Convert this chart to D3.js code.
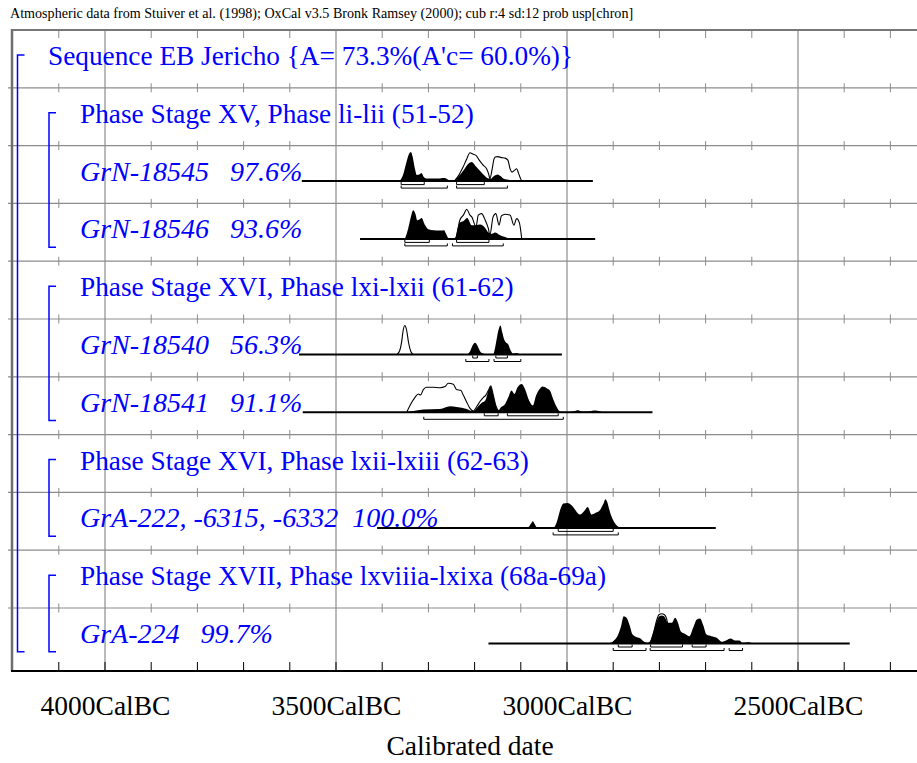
<!DOCTYPE html>
<html>
<head>
<meta charset="utf-8">
<script src="https://cdn.jsdelivr.net/npm/d3@7"></script>
<style>
  body { margin: 0; background: #fff; }
  svg { display: block; font-family: "Liberation Serif", "Times New Roman", serif; }
</style>
</head>
<body>
<svg id="chart"></svg>
<script>
const width = 917;
const height = 763;

const headerText =
  "Atmospheric data from Stuiver et al. (1998); OxCal v3.5 Bronk Ramsey (2000); cub r:4 sd:12 prob usp[chron]";
const axisTitle = "Calibrated date";

// calendar years BC
const majorTicks = [4000, 3500, 3000, 2500];
const minorTicks = [4100, 3900, 3800, 3700, 3600, 3400, 3300, 3200, 3100,
  2900, 2800, 2700, 2600, 2400, 2300];

const rowLabels = [
  "Sequence EB Jericho {A= 73.3%(A'c= 60.0%)}",
  "Phase Stage XV, Phase li-lii (51-52)",
  "GrN-18545   97.6%",
  "GrN-18546   93.6%",
  "Phase Stage XVI, Phase lxi-lxii (61-62)",
  "GrN-18540   56.3%",
  "GrN-18541   91.1%",
  "Phase Stage XVI, Phase lxii-lxiii (62-63)",
  "GrA-222, -6315, -6332  100.0%",
  "Phase Stage XVII, Phase lxviiia-lxixa (68a-69a)",
  "GrA-224   99.7%",
];
const rowKinds = ["seq", "phase", "sample", "sample", "phase", "sample", "sample",
  "phase", "sample", "phase", "sample"];
// [first row, last row] of each bracket
const phaseGroups = [[1, 3], [4, 6], [7, 8], [9, 10]];
const seqGroup = [0, 10];

// [year BC, relative probability]
const grn18545Span = [3574, 2944];
const grn18545Post = [[3362,0],[3355,6],[3348,18],[3342,27],[3338,29],[3334,24],[3329,12],[3325,6],
  [3320,6.5],[3315,8],[3310,4],[3305,2.7],[3290,2.5],[3275,2.7],[3265,3],[3258,1.5],[3252,0],
  [3244,0],[3238,3],[3230,7],[3222,12],[3214,17],[3206,19],[3198,15],[3190,11],[3180,6],
  [3170,2.5],[3165,2.3],[3158,5],[3150,6.7],[3144,5],[3138,2.5],[3130,1.5],[3120,1],[3110,0.5],[3100,0]];
const grn18545Like = [[3244,0],[3234,6],[3226,13],[3218,21],[3210,28.3],[3204,27],[3197,25.7],
  [3190,21],[3181,15.7],[3174,12.3],[3169,6],[3167,2.3],[3162,12],[3158,22],[3155,24],[3150,24.5],
  [3142,23.5],[3134,23],[3128,21],[3123,12],[3119,9],[3113,11],[3109,12.3],[3105,8],[3101,3],[3098,0]];
const grn18545R68 = [[3359, 3309], [3239, 3179]];
const grn18545R95 = [[3359, 3259], [3239, 3129]];

const grn18546Span = [3448, 2939];
const grn18546Post = [[3351,0],[3344,10],[3338,22],[3333,28.7],[3328,25],[3324,18.7],[3318,20],
  [3315,21],[3307,13.7],[3300,9.7],[3289,8.7],[3275,8.3],[3266,8.7],[3262,5.3],[3257,1],[3250,0],
  [3242,0],[3239,6],[3233,16],[3224,18],[3216,21],[3206,13.7],[3197,13.7],[3188,14.3],[3177,11],
  [3170,6.3],[3163,5],[3156,6.3],[3145,3.7],[3134,2],[3123,0]];
const grn18546Like = [[3242,0],[3239,3],[3232,18.7],[3224,24],[3217,29.7],[3210,23.7],[3206,22],
  [3197,12],[3192,23.7],[3185,25.3],[3177,18.7],[3170,10],[3167,3.7],[3160,22],[3154,25.3],
  [3147,13.7],[3142,23],[3134,24.7],[3123,23.7],[3115,13.7],[3109,20.3],[3103,16],[3098,0]];
const grn18546R68 = [[3351, 3298], [3239, 3169]];
const grn18546R95 = [[3351, 3259], [3248, 3138]];

const grn18540Span = [3580, 3011];
const grn18540Post = [[3216,0],[3210,3],[3205,8.5],[3199,11.7],[3194,9],[3190,5],[3186,2],
  [3180,0.8],[3174,0],[3160,0],[3156,6],[3152,16],[3148,25],[3144,29],[3140,22],[3136,15],
  [3132,12],[3127,10],[3122,4],[3117,1],[3109,1.5],[3102,0]];
const grn18540Like = [[3368,0],[3362,4],[3358,12.3],[3355,23],[3351,29],[3347,24],[3343,12],
  [3338,3],[3333,0]];
const grn18540R68 = [[3204, 3194], [3154, 3129]];
const grn18540R95 = [[3219, 3169], [3158, 3100]];

const grn18541Span = [3572, 2815];
const grn18541Post = [[3350,0],[3335,1],[3311,2.7],[3275,3.3],[3253,6],[3239,5.3],[3217,3.3],
  [3203,1],[3194,5],[3185,9.3],[3177,11.7],[3170,21.7],[3165,26],[3160,18],[3154,6.7],[3149,1.7],
  [3143,5],[3134,8.3],[3127,15],[3120,21.7],[3114,18.3],[3107,25],[3098,28.3],[3091,23.3],
  [3082,11.7],[3074,6.7],[3067,16.7],[3060,22.7],[3053,25.7],[3044,24],[3037,21.7],[3030,13.3],
  [3022,5],[3015,0.7],[3000,0.3],[2985,1],[2976,2],[2968,0.7],[2955,0.7],[2945,1.5],[2939,1.7],
  [2930,1],[2921,0]];
const grn18541Like = [[3347,0],[3336,10],[3329,15],[3322,18.3],[3317,17.3],[3311,22.7],[3304,25],
  [3289,25],[3275,24.5],[3264,25.7],[3257,29],[3246,28],[3239,22.7],[3230,22],[3224,16.7],
  [3217,10],[3210,4],[3203,1.3],[3195,6],[3188,11],[3181,15],[3176,17],[3170,22],[3165,26.5],
  [3160,18],[3154,6.7],[3149,1.7],[3145,0]];
const grn18541R68 = [[3179, 3149], [3129, 3019]];
const grn18541R95 = [[3310, 3008]];

const gra222Span = [3411, 2678];
const gra222Post = [[3088,0],[3082,1.5],[3077,5],[3074,6.7],[3070,4],[3066,1],[3060,0],[3030,0],[3022,6],
  [3015,17.7],[3008,24.3],[2999,25],[2988,21.7],[2979,16],[2972,13.3],[2963,16.7],[2955,21],
  [2947,13.3],[2937,15.3],[2929,17.7],[2921,24.3],[2917,28.7],[2913,26],[2907,16],[2900,7.7],
  [2891,2],[2882,0]];
const gra222Like = [];
const gra222R68 = [[3019, 2900]];
const gra222R95 = [[3030, 2889]];

const gra224Span = [3170, 2388];
const gra224Post = [[2911,0],[2900,2.3],[2891,7.3],[2884,15.7],[2877,27.3],[2871,25.7],[2865,19],
  [2858,9],[2849,6.3],[2841,5],[2833,1.7],[2826,0.7],[2819,3],[2813,10.7],[2807,20.7],[2800,27.3],
  [2795,28],[2790,27.3],[2781,20.7],[2773,20.7],[2766,25.7],[2759,19.7],[2754,12.3],[2745,9.7],
  [2735,7.3],[2727,15.7],[2719,24],[2712,25],[2705,18.3],[2698,9],[2687,7.3],[2676,5.7],
  [2665,1.7],[2656,3],[2646,5],[2636,3],[2627,3],[2620,0.7],[2608,1.3],[2597,0.3],[2590,0]];
const gra224Like = [[2820,0],[2812,12],[2806,23],[2801,28.8],[2795,29.8],[2789,28.8],[2783,22],[2778,0]];
const gra224R68 = [[2889, 2859], [2819, 2750], [2729, 2699]];
const gra224R95 = [[2900, 2829], [2820, 2660], [2649, 2620]];

const samples = [
  { row: 2, span: grn18545Span, post: grn18545Post, like: grn18545Like, r68: grn18545R68, r95: grn18545R95 },
  { row: 3, span: grn18546Span, post: grn18546Post, like: grn18546Like, r68: grn18546R68, r95: grn18546R95 },
  { row: 5, span: grn18540Span, post: grn18540Post, like: grn18540Like, r68: grn18540R68, r95: grn18540R95 },
  { row: 6, span: grn18541Span, post: grn18541Post, like: grn18541Like, r68: grn18541R68, r95: grn18541R95 },
  { row: 8, span: gra222Span, post: gra222Post, like: gra222Like, r68: gra222R68, r95: gra222R95 },
  { row: 10, span: gra224Span, post: gra224Post, like: gra224Like, r68: gra224R68, r95: gra224R95 },
];

const plotLeft = 12;
const plotRight = width;
const plotTop = 30;
const plotBottom = 671;
const gridColor = "#8c8c8c";
const blue = "#0000ff";

const svg = d3.select("#chart").attr("width", width).attr("height", height);

const x = d3.scaleLinear().domain([4000, 2500]).range([105, 798]);
const rowY = d3.scaleLinear().domain([0, rowLabels.length]).range([plotTop, 665.8]);
const dens = d3.scaleLinear().domain([0, 30]).range([0, 30]);

// header
svg.append("text")
  .attr("x", 10).attr("y", 18)
  .attr("font-size", 14.1)
  .text(headerText);

// grid
const grid = svg.append("g").attr("stroke", gridColor).attr("fill", "none");

grid.selectAll(".vgrid")
  .data(majorTicks)
  .enter()
  .append("line")
  .attr("x1", (d) => x(d)).attr("x2", (d) => x(d))
  .attr("y1", plotTop).attr("y2", plotBottom)
  .attr("stroke-width", 1.2);

const rowLines = rowLabels.map((d, i) => i).filter((i) => i > 0);
grid.selectAll(".hgrid")
  .data(rowLines)
  .enter()
  .append("line")
  .attr("x1", plotLeft - 4).attr("x2", plotRight)
  .attr("y1", (i) => rowY(i)).attr("y2", (i) => rowY(i))
  .attr("stroke-width", 1.2);

rowLines.forEach((i) => {
  grid.selectAll(null)
    .data(minorTicks)
    .enter()
    .append("line")
    .attr("x1", (d) => x(d)).attr("x2", (d) => x(d))
    .attr("y1", rowY(i) - 4.5).attr("y2", rowY(i) + 4.5);
});

grid.selectAll(null)
  .data(minorTicks)
  .enter()
  .append("line")
  .attr("x1", (d) => x(d)).attr("x2", (d) => x(d))
  .attr("y1", plotTop).attr("y2", plotTop + 8);

grid.append("line")
  .attr("x1", plotLeft).attr("x2", plotRight)
  .attr("y1", plotTop).attr("y2", plotTop)
  .attr("stroke", "#777").attr("stroke-width", 2);

grid.append("line")
  .attr("x1", plotLeft).attr("x2", plotLeft)
  .attr("y1", plotTop - 1).attr("y2", plotBottom)
  .attr("stroke", "#6e6e6e").attr("stroke-width", 2.5);

// bottom axis
const axis = svg.append("g");
axis.selectAll(null)
  .data(minorTicks.concat(majorTicks))
  .enter()
  .append("line")
  .attr("x1", (d) => x(d)).attr("x2", (d) => x(d))
  .attr("y1", plotBottom - 9).attr("y2", plotBottom)
  .attr("stroke", "#000").attr("stroke-width", 1);

axis.append("line")
  .attr("x1", plotLeft - 1).attr("x2", plotRight)
  .attr("y1", plotBottom).attr("y2", plotBottom)
  .attr("stroke", "#000").attr("stroke-width", 2);

const xAxis = d3.axisBottom(x)
  .tickValues(majorTicks)
  .tickSize(0)
  .tickPadding(24)
  .tickFormat((d) => d + "CalBC");

svg.append("g")
  .attr("transform", `translate(0, ${plotBottom})`)
  .call(xAxis)
  .call((g) => g.select(".domain").remove())
  .selectAll("text")
  .attr("font-family", '"Liberation Serif", "Times New Roman", serif')
  .attr("font-size", 27.5)
  .attr("fill", "#000");

svg.append("text")
  .attr("x", 470).attr("y", 755)
  .attr("text-anchor", "middle")
  .attr("font-size", 27.5)
  .text(axisTitle);

// brackets
const bracket = (x0, r) => {
  const top = rowY(r[0]) + 25;
  const bottom = rowY(r[1] + 1) - 14;
  return `M${x0 + 7},${top} H${x0} V${bottom} H${x0 + 7}`;
};
svg.append("path")
  .attr("d", bracket(17.5, seqGroup))
  .attr("fill", "none").attr("stroke", blue).attr("stroke-width", 1.5);
svg.selectAll(".phase-bracket")
  .data(phaseGroups)
  .enter()
  .append("path")
  .attr("d", (r) => bracket(49, r))
  .attr("fill", "none").attr("stroke", blue).attr("stroke-width", 1.5);

// labels
svg.selectAll(".row-label")
  .data(rowLabels)
  .enter()
  .append("text")
  .attr("x", (d, i) => (rowKinds[i] === "seq" ? 48 : 80))
  .attr("y", (d, i) => rowY(i) + 35)
  .attr("font-size", (d, i) => (rowKinds[i] === "sample" ? 28 : 27.3))
  .attr("font-style", (d, i) => (rowKinds[i] === "sample" ? "italic" : "normal"))
  .attr("fill", blue)
  .style("white-space", "pre")
  .text((d) => d);

// distributions
samples.forEach((s) => {
  const base = rowY(s.row) + 35.5;
  const area = d3.area()
    .x((d) => x(d[0]))
    .y0(base)
    .y1((d) => base - dens(d[1]))
    .curve(d3.curveMonotoneX);
  const g = svg.append("g");

  g.append("path").datum(s.post).attr("d", area).attr("fill", "#000");
  if (s.like.length) {
    g.append("path").datum(s.like).attr("d", area)
      .attr("fill", "none").attr("stroke", "#000").attr("stroke-width", 1.1);
  }

  g.append("line")
    .attr("x1", x(s.span[0])).attr("x2", x(s.span[1]))
    .attr("y1", base).attr("y2", base)
    .attr("stroke", "#000").attr("stroke-width", 2);

  const drawRanges = (ranges, off) => {
    g.selectAll(null)
      .data(ranges)
      .enter()
      .append("path")
      .attr("d", (r) => `M${x(r[0])},${base + off - 2.5} V${base + off} H${x(r[1])} V${base + off - 2.5}`)
      .attr("fill", "none").attr("stroke", "#000").attr("stroke-width", 1);
  };
  drawRanges(s.r68, 3.5);
  drawRanges(s.r95, 7);
});
</script>
</body>
</html>
